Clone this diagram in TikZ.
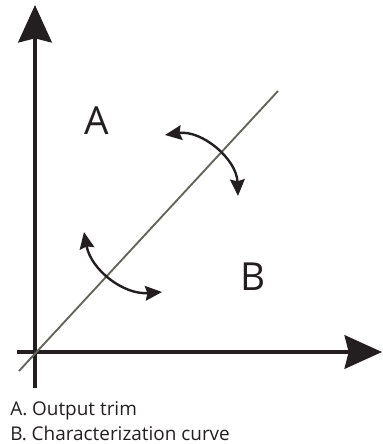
\documentclass[tikz,border=0pt]{standalone}
\usepackage{fontspec}
\setmainfont{Open Sans}
\usetikzlibrary{arrows.meta}
\definecolor{axisblack}{RGB}{35,31,32}
\definecolor{linegray}{RGB}{100,100,92}
\begin{document}
\begin{tikzpicture}[
  x=0.75pt, y=0.75pt,
  axis/.style={line width=3.4pt, draw=axisblack, -{Stealth[length=28pt, width=25pt, inset=3pt]}},
  swing/.style={line width=1.8pt, draw=axisblack, {Stealth[length=12.5pt, width=11pt, inset=1.5pt]}-{Stealth[length=12.5pt, width=11pt, inset=1.5pt]}},
  big/.style={font=\fontsize{29}{32}\selectfont, text=axisblack},
  legendtxt/.style={font=\fontsize{14.2}{16}\selectfont, text=axisblack, anchor=base west, inner sep=0pt}
]
\useasboundingbox (0,0) rectangle (383,444);
% axes
\coordinate (ybot) at (35,56);
\coordinate (ytop) at (35,439);
\coordinate (xlft) at (17,92);
\coordinate (xrgt) at (382,92);
\draw[axis] (ybot) -- (ytop);
\draw[axis] (xlft) -- (xrgt);
% characterization curve
\coordinate (clo) at (19,73);
\coordinate (chi) at (278,353);
\draw[linegray, line width=1.4pt] (clo) -- (chi);
% trim arrows
\coordinate (s1a) at (84,212);
\coordinate (s1b) at (162,152);
\coordinate (s2a) at (165,309);
\coordinate (s2b) at (238,248);
\draw[swing] (s1a) to[bend right=42] (s1b);
\draw[swing] (s2a) to[bend left=48] (s2b);
% labels
\node[big] (la) at (97,323) {A};
\node[big] (lb) at (253,167) {B};
\node[legendtxt] (capa) at (10,28.5) {A. Output trim};
\node[legendtxt] (capb) at (10,3) {B. Characterization curve};
\end{tikzpicture}
\end{document}
